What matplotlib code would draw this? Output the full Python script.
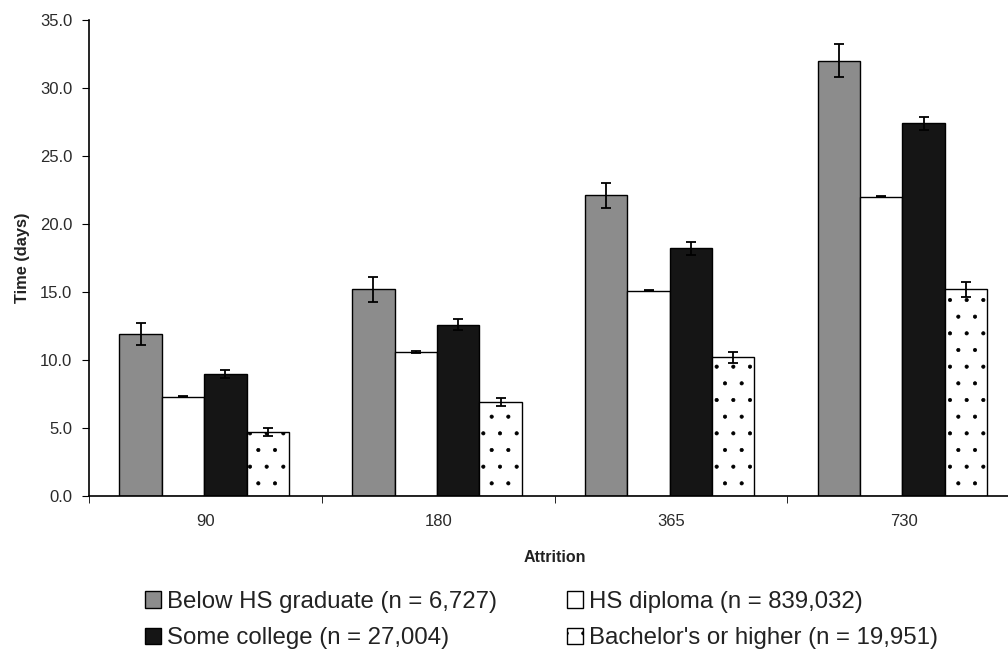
import matplotlib
matplotlib.use("Agg")
import matplotlib.pyplot as plt
import numpy as np

plt.rcParams['font.family'] = ['Liberation Sans', 'DejaVu Sans']
plt.rcParams['hatch.linewidth'] = 0.5

# data
attrition = ['90', '180', '365', '730']
series = ["Below HS graduate (n = 6,727)", "HS diploma (n = 839,032)",
          "Some college (n = 27,004)", "Bachelor's or higher (n = 19,951)"]
below_hs = [11.9, 15.2, 22.1, 32.0]
below_hs_err = [0.8, 0.9, 0.9, 1.2]
hs_diploma = [7.3, 10.6, 15.1, 22.0]
hs_diploma_err = [0.05, 0.05, 0.05, 0.05]
some_college = [9.0, 12.6, 18.2, 27.4]
some_college_err = [0.3, 0.4, 0.5, 0.5]
bachelor = [4.7, 6.9, 10.2, 15.2]
bachelor_err = [0.3, 0.3, 0.4, 0.55]

values = [below_hs, hs_diploma, some_college, bachelor]
errors = [below_hs_err, hs_diploma_err, some_college_err, bachelor_err]
faces = ['#8c8c8c', 'white', '#151515', 'white']
hatches = [None, None, None, '.']

fig = plt.figure(figsize=(10.08, 6.55), dpi=100)
ax = fig.add_axes([89 / 1008, 1 - 496 / 655, 931 / 1008, 476 / 655])

x = np.arange(len(attrition))
w = 0.182
bars = []
for i in range(4):
    b = ax.bar(x + (i - 1.5) * w - 0.005, values[i], w, yerr=errors[i],
               color=faces[i], edgecolor='black', linewidth=1.0,
               hatch=hatches[i], label=series[i],
               error_kw=dict(ecolor='black', elinewidth=1.3, capsize=3.3,
                             capthick=1.3))
    bars.append(b)

ax.set_xlim(-0.5, 3.5)
ax.set_ylim(0, 35)
ax.set_yticks(np.arange(0, 35.1, 5))
ax.set_yticklabels(['%.1f' % v for v in np.arange(0, 35.1, 5)], fontsize=12,
                   color='#2a2a2a')
ax.set_xticks(x)
ax.set_xticklabels(attrition, fontsize=12, color='#2a2a2a')
ax.set_xticks(np.arange(-0.5, 3.6, 1), minor=True)
ax.tick_params(axis='x', which='major', length=0, pad=13)
ax.tick_params(axis='x', which='minor', length=5, direction='out')
ax.tick_params(axis='y', length=5, direction='out', pad=7)

for s in ['top', 'right']:
    ax.spines[s].set_visible(False)
ax.spines['left'].set_linewidth(1.2)
ax.spines['bottom'].set_linewidth(1.2)

ax.set_ylabel('Time (days)', fontsize=11.8, fontweight='bold', labelpad=7,
              color='#222222')
ax.set_xlabel('Attrition', fontsize=11.5, fontweight='bold', labelpad=15,
              color='#222222')

# legend ordered so rows read left to right like the original
order = [0, 2, 1, 3]
leg = fig.legend([bars[i] for i in order], [series[i] for i in order],
                 loc='upper left', bbox_to_anchor=(145 / 1008, 1 - 591 / 655),
                 ncol=2, frameon=False, prop={'size': 17.3}, borderpad=0,
                 borderaxespad=0, handlelength=0.68, handleheight=0.68,
                 handletextpad=0.25, columnspacing=2.9, labelspacing=0.6)
for t in leg.get_texts():
    t.set_color('#222222')

fig.savefig('out.png', dpi=100)
